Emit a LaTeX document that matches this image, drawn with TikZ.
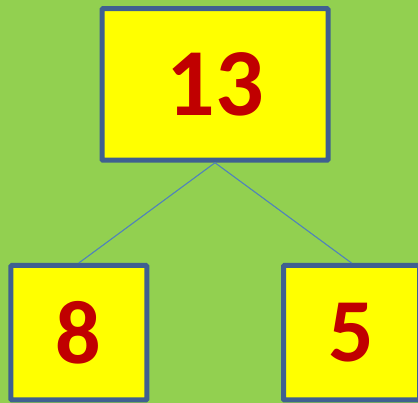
\documentclass[tikz,border=0pt]{standalone}
\usepackage{fontspec}
\setmainfont{Carlito}
\usepackage{tikz}
\usetikzlibrary{positioning}
\definecolor{leafgreen}{HTML}{92D050}
\definecolor{boxyellow}{HTML}{FFFF00}
\definecolor{numred}{HTML}{C00000}
\definecolor{frameblue}{HTML}{3F6090}
\definecolor{linkblue}{HTML}{4F81BD}

\begin{document}
\begin{tikzpicture}[x=1pt, y=-1pt,
    numbox/.style={draw=frameblue, fill=boxyellow, line width=5pt, rectangle, rounded corners=1pt,
        text=numred, font=\bfseries\fontsize{90}{90}\selectfont, inner sep=0pt},
    link/.style={draw=linkblue, line width=1.1pt}]
    \fill[leafgreen] (0,0) rectangle (418,403);
    \useasboundingbox (0,0) rectangle (418,403);

    \node[numbox, minimum width=226pt, minimum height=151.5pt, font=\bfseries\fontsize{96}{96}\selectfont] (total) at (215,84.5) {13};
    \node[numbox, minimum width=136pt, minimum height=134.5pt] (partA) at (78.8,332.75) {8};
    \node[numbox, minimum width=136pt, minimum height=134.5pt] (partB) at (351.5,332.75) {5};

    \path (total.south) edge[link] (partA.north)
          (total.south) edge[link] (partB.north);
\end{tikzpicture}
\end{document}
